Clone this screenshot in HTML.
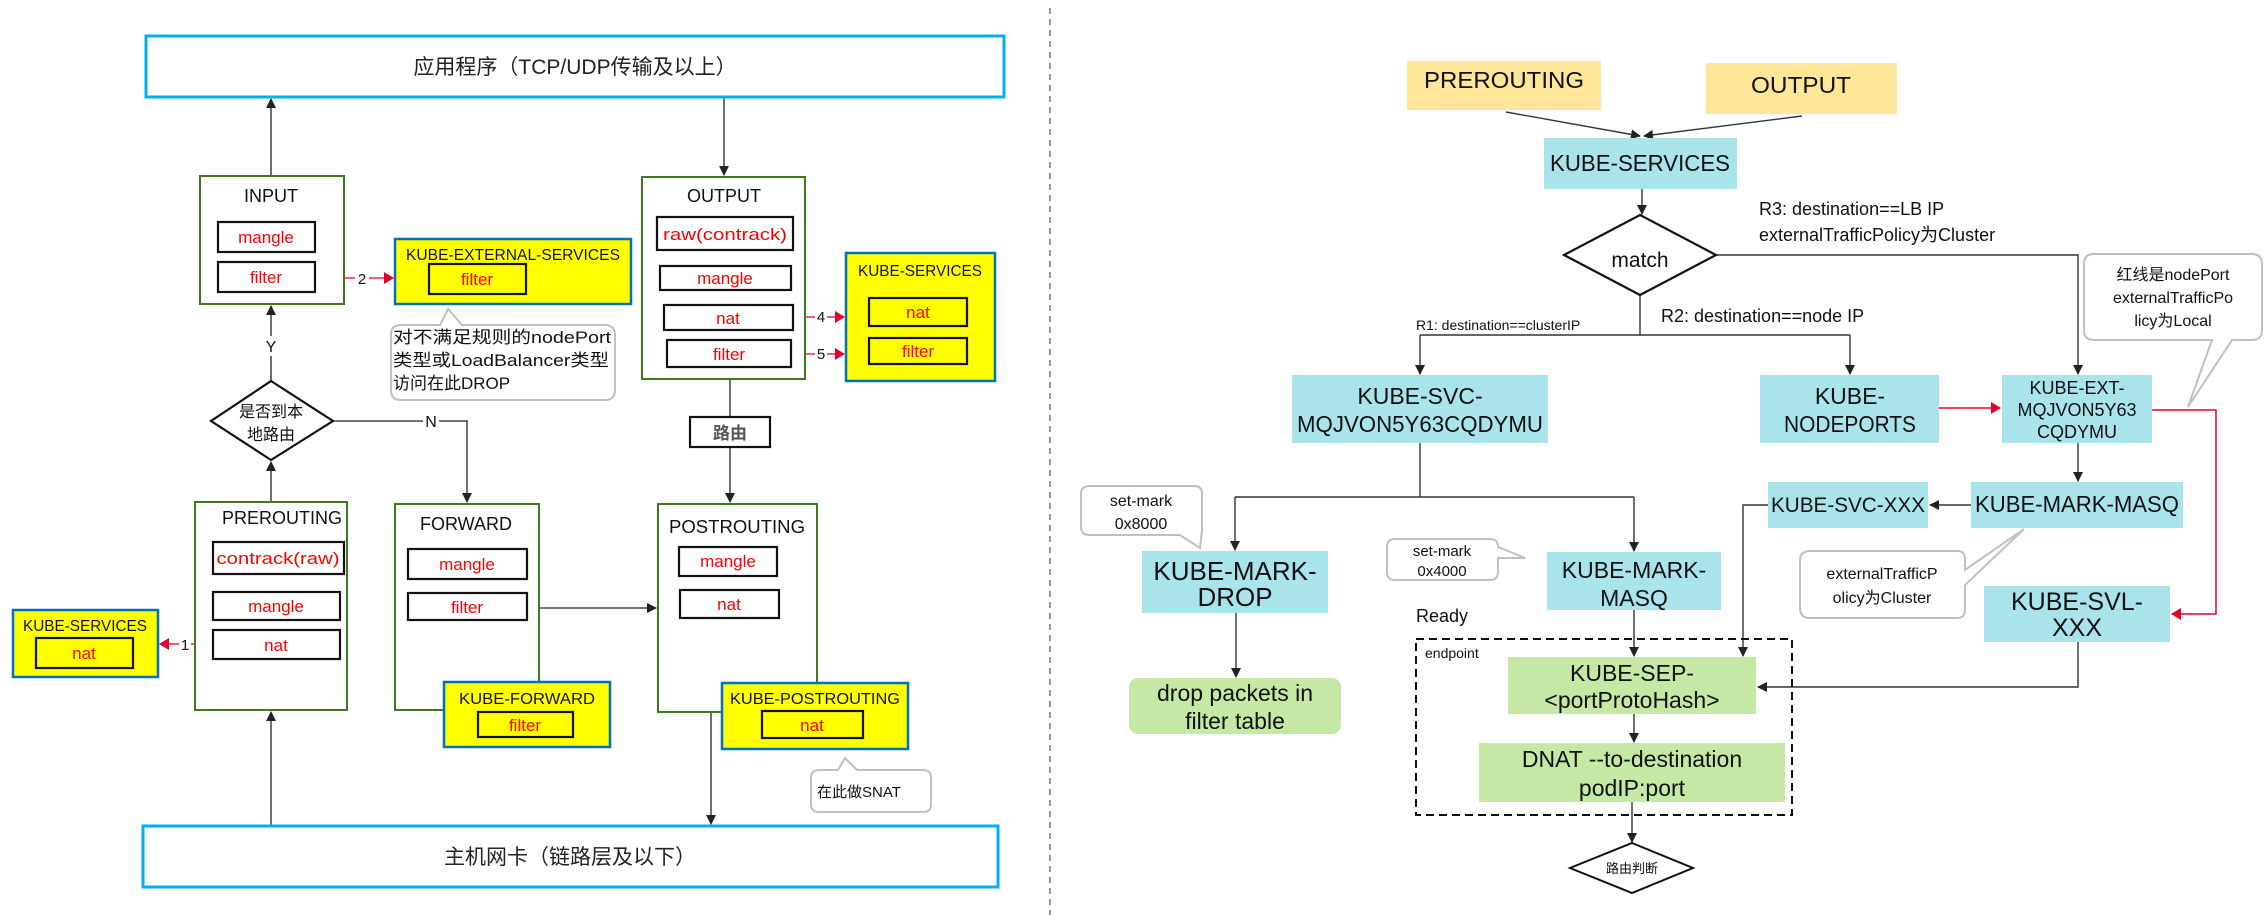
<!DOCTYPE html>
<html><head><meta charset="utf-8"><style>
html,body{margin:0;padding:0;background:#fff}
svg{display:block}
text{font-family:"Liberation Sans","Noto Sans CJK SC",sans-serif}
.c{text-anchor:middle}
.r{fill:#ff0000}
</style></head><body>
<svg width="2265" height="919" viewBox="0 0 2265 919" xmlns="http://www.w3.org/2000/svg">
<defs>
<marker id="a" markerWidth="10" markerHeight="10" refX="9" refY="5" orient="auto" markerUnits="userSpaceOnUse"><path d="M0,0 L10,5 L0,10 z" fill="#222"/></marker>
<marker id="ar" markerWidth="10" markerHeight="12" refX="9" refY="6" orient="auto" markerUnits="userSpaceOnUse"><path d="M0,0 L10,6 L0,12 z" fill="#e8002a"/></marker>
</defs>
<g fill="none" stroke="#222" stroke-width="1.3">
<!-- left connectors -->
<line x1="271" y1="176" x2="271" y2="99" marker-end="url(#a)"/>
<line x1="724" y1="97" x2="724" y2="175" marker-end="url(#a)"/>
<line x1="271" y1="381" x2="271" y2="306" marker-end="url(#a)"/>
<polyline points="333,421 467,421 467,502" marker-end="url(#a)"/>
<line x1="730" y1="379" x2="730" y2="417"/>
<line x1="730" y1="447" x2="730" y2="502" marker-end="url(#a)"/>
<line x1="271" y1="502" x2="271" y2="462" marker-end="url(#a)"/>
<line x1="271" y1="826" x2="271" y2="712" marker-end="url(#a)"/>
<line x1="539" y1="608" x2="656" y2="608" marker-end="url(#a)"/>
<line x1="711" y1="712" x2="711" y2="824" marker-end="url(#a)"/>
</g>
<g fill="none" stroke="#e8002a" stroke-width="1.3">
<line x1="315" y1="278" x2="393" y2="278" marker-end="url(#ar)"/>
<line x1="793" y1="317" x2="844" y2="317" marker-end="url(#ar)"/>
<line x1="791" y1="354" x2="844" y2="354" marker-end="url(#ar)"/>
<line x1="213" y1="644" x2="160" y2="644" marker-end="url(#ar)"/>
<line x1="480" y1="620" x2="480" y2="681" marker-end="url(#ar)"/>
<line x1="750" y1="618" x2="750" y2="682" marker-end="url(#ar)"/>
</g>
<!-- number labels -->
<g font-size="15" class="c" fill="#111">
<rect x="355" y="268" width="14" height="18" fill="#fff"/><text x="362" y="284">2</text>
<rect x="815" y="307" width="12" height="18" fill="#fff"/><text x="821" y="322">4</text>
<rect x="815" y="344" width="12" height="18" fill="#fff"/><text x="821" y="359">5</text>
<rect x="179" y="634" width="12" height="18" fill="#fff"/><text x="185" y="650">1</text>
<rect x="474" y="642" width="12" height="18" fill="#fff"/><text x="480" y="657">3</text>
<rect x="744" y="636" width="12" height="18" fill="#fff"/><text x="750" y="651">6</text>
<rect x="263" y="336" width="16" height="20" fill="#fff"/><text x="271" y="352" font-size="16">Y</text>
<rect x="423" y="412" width="16" height="20" fill="#fff"/><text x="431" y="427" font-size="16">N</text>
</g>
<!-- app boxes -->
<rect x="146" y="36" width="858" height="61" fill="#fff" stroke="#00b0f0" stroke-width="3"/>
<text x="575" y="74" class="c" font-size="21" fill="#222">应用程序（TCP/UDP传输及以上）</text>
<rect x="143" y="826" width="855" height="61" fill="#fff" stroke="#00b0f0" stroke-width="3"/>
<text x="570" y="864" class="c" font-size="21" fill="#222">主机网卡（链路层及以下）</text>
<!-- chains -->
<g fill="#fff" stroke="#3f7a1c" stroke-width="2">
<rect x="200" y="176" width="144" height="128"/>
<rect x="642" y="177" width="163" height="202"/>
<rect x="195" y="502" width="152" height="208"/>
<rect x="395" y="504" width="144" height="206"/>
<rect x="658" y="504" width="159" height="208"/>
</g>
<g font-size="18" class="c" fill="#111">
<text x="271" y="202">INPUT</text>
<text x="724" y="202">OUTPUT</text>
<text x="282" y="524" textLength="120" lengthAdjust="spacingAndGlyphs">PREROUTING</text>
<text x="466" y="530">FORWARD</text>
<text x="737" y="533" textLength="136" lengthAdjust="spacingAndGlyphs">POSTROUTING</text>
</g>
<!-- yellow boxes -->
<g fill="#ffff00" stroke="#0070c0" stroke-width="2.5">
<rect x="395" y="239" width="236" height="65"/>
<rect x="846" y="253" width="149" height="128"/>
<rect x="13" y="610" width="145" height="67"/>
<rect x="444" y="682" width="166" height="65"/>
<rect x="722" y="683" width="186" height="66"/>
</g>
<g font-size="16" class="c" fill="#111">
<text x="513" y="260" textLength="214" lengthAdjust="spacingAndGlyphs">KUBE-EXTERNAL-SERVICES</text>
<text x="920" y="276" textLength="124" lengthAdjust="spacingAndGlyphs">KUBE-SERVICES</text>
<text x="85" y="631" textLength="124" lengthAdjust="spacingAndGlyphs">KUBE-SERVICES</text>
<text x="527" y="704" textLength="136" lengthAdjust="spacingAndGlyphs">KUBE-FORWARD</text>
<text x="815" y="704" textLength="170" lengthAdjust="spacingAndGlyphs">KUBE-POSTROUTING</text>
</g>
<!-- table boxes -->
<g fill="none" stroke="#111" stroke-width="2.2">
<rect x="218" y="222" width="97" height="30"/>
<rect x="218" y="262" width="97" height="30"/>
<rect x="429" y="264" width="97" height="30"/>
<rect x="657" y="217" width="136" height="33"/>
<rect x="660" y="266" width="131" height="24"/>
<rect x="664" y="305" width="129" height="25"/>
<rect x="667" y="340" width="124" height="27"/>
<rect x="869" y="298" width="98" height="28"/>
<rect x="869" y="338" width="98" height="26"/>
<rect x="213" y="542" width="131" height="32"/>
<rect x="213" y="592" width="127" height="28"/>
<rect x="213" y="630" width="127" height="29"/>
<rect x="36" y="638" width="97" height="30"/>
<rect x="408" y="549" width="119" height="30"/>
<rect x="408" y="593" width="119" height="27"/>
<rect x="478" y="712" width="95" height="25"/>
<rect x="679" y="547" width="98" height="29"/>
<rect x="680" y="590" width="99" height="28"/>
<rect x="762" y="711" width="101" height="27"/>
<rect x="690" y="417" width="80" height="30" fill="#fff"/>
</g>
<g font-size="17" class="c r">
<text x="266" y="243">mangle</text>
<text x="266" y="283">filter</text>
<text x="477" y="285">filter</text>
<text x="725" y="240" textLength="124" lengthAdjust="spacingAndGlyphs">raw(contrack)</text>
<text x="725" y="284">mangle</text>
<text x="728" y="324">nat</text>
<text x="729" y="360">filter</text>
<text x="918" y="318">nat</text>
<text x="918" y="357">filter</text>
<text x="278" y="564" textLength="123" lengthAdjust="spacingAndGlyphs">contrack(raw)</text>
<text x="276" y="612">mangle</text>
<text x="276" y="651">nat</text>
<text x="84" y="659">nat</text>
<text x="467" y="570">mangle</text>
<text x="467" y="613">filter</text>
<text x="525" y="731">filter</text>
<text x="728" y="567">mangle</text>
<text x="729" y="610">nat</text>
<text x="812" y="731">nat</text>
</g>
<text x="730" y="439" class="c" font-size="17" font-weight="bold" fill="#555">路由</text>
<!-- diamond -->
<polygon points="271,381 333,421 271,460 211,421" fill="#fff" stroke="#111" stroke-width="2.2"/>
<text x="271" y="417" class="c" font-size="16" fill="#111">是否到本</text>
<text x="271" y="440" class="c" font-size="16" fill="#111">地路由</text>
<!-- callouts -->
<path d="M401,325 L440,325 L448,309 L462,325 L605,325 Q615,325 615,335 L615,390 Q615,400 605,400 L401,400 Q391,400 391,390 L391,335 Q391,325 401,325 z" fill="#fff" stroke="#c0c0c0" stroke-width="2"/>
<g font-size="17" fill="#111">
<text x="393" y="343" textLength="218" lengthAdjust="spacingAndGlyphs">对不满足规则的nodePort</text>
<text x="393" y="366" textLength="216" lengthAdjust="spacingAndGlyphs">类型或LoadBalancer类型</text>
<text x="393" y="389">访问在此DROP</text>
</g>
<path d="M819,770 L838,770 L845,758 L857,770 L923,770 Q931,770 931,778 L931,804 Q931,812 923,812 L819,812 Q811,812 811,804 L811,778 Q811,770 819,770 z" fill="#fff" stroke="#c0c0c0" stroke-width="2"/>
<text x="817" y="797" font-size="15" fill="#111">在此做SNAT</text>
<!-- divider -->
<line x1="1050" y1="8" x2="1050" y2="915" stroke="#777" stroke-width="1.5" stroke-dasharray="6,5"/>

<!-- RIGHT SIDE -->
<g fill="none" stroke="#333" stroke-width="1.4">
<line x1="1506" y1="112" x2="1640" y2="136" marker-end="url(#a)"/>
<line x1="1802" y1="116" x2="1644" y2="136" marker-end="url(#a)"/>
<line x1="1642" y1="189" x2="1642" y2="214" marker-end="url(#a)"/>
<polyline points="1716,255 2078,255 2078,374" marker-end="url(#a)"/>
<line x1="1640" y1="295" x2="1640" y2="335"/>
<polyline points="1420,335 1420,374" marker-end="url(#a)"/>
<polyline points="1850,335 1850,374" marker-end="url(#a)"/>
<line x1="1420" y1="335" x2="1850" y2="335"/>
<polyline points="1420,443 1420,497"/>
<line x1="1235" y1="497" x2="1634" y2="497"/>
<line x1="1235" y1="497" x2="1235" y2="550" marker-end="url(#a)"/>
<line x1="1634" y1="497" x2="1634" y2="551" marker-end="url(#a)"/>
<line x1="1236" y1="613" x2="1236" y2="677" marker-end="url(#a)"/>
<line x1="1634" y1="610" x2="1634" y2="656" marker-end="url(#a)"/>
<line x1="2078" y1="443" x2="2078" y2="481" marker-end="url(#a)"/>
<line x1="1971" y1="505" x2="1930" y2="505" marker-end="url(#a)"/>
<polyline points="1768,505 1743,505 1743,656" marker-end="url(#a)"/>
<polyline points="2078,642 2078,687 1758,687" marker-end="url(#a)"/>
<line x1="1634" y1="714" x2="1634" y2="742" marker-end="url(#a)"/>
<line x1="1632" y1="802" x2="1632" y2="842" marker-end="url(#a)"/>
</g>
<g fill="none" stroke="#e8002a" stroke-width="1.5">
<line x1="1939" y1="408" x2="2000" y2="408" marker-end="url(#ar)"/>
<polyline points="2152,410 2216,410 2216,614 2172,614" marker-end="url(#ar)"/>
</g>
<!-- dashed endpoint box -->
<rect x="1416" y="639" width="376" height="176" fill="none" stroke="#111" stroke-width="2" stroke-dasharray="8,5"/>
<text x="1425" y="658" font-size="14" fill="#111">endpoint</text>
<text x="1416" y="622" font-size="18" fill="#111">Ready</text>
<!-- boxes -->
<rect x="1407" y="61" width="194" height="49" fill="#ffe699"/>
<rect x="1706" y="63" width="191" height="51" fill="#ffe699"/>
<g fill="#aae4eb">
<rect x="1544" y="138" width="193" height="51"/>
<rect x="1292" y="375" width="256" height="68"/>
<rect x="1760" y="375" width="179" height="68"/>
<rect x="2002" y="375" width="150" height="68"/>
<rect x="1142" y="551" width="186" height="62"/>
<rect x="1547" y="552" width="174" height="58"/>
<rect x="1768" y="482" width="160" height="46"/>
<rect x="1971" y="482" width="212" height="46"/>
<rect x="1984" y="586" width="186" height="56"/>
</g>
<g fill="#c5e8a5">
<rect x="1129" y="678" width="212" height="56" rx="9"/>
<rect x="1508" y="657" width="248" height="57"/>
<rect x="1479" y="743" width="306" height="59"/>
</g>
<g font-size="23" class="c" fill="#111">
<text x="1504" y="88" textLength="160" lengthAdjust="spacingAndGlyphs">PREROUTING</text>
<text x="1801" y="93" textLength="100" lengthAdjust="spacingAndGlyphs">OUTPUT</text>
<text x="1640" y="171" textLength="180" lengthAdjust="spacingAndGlyphs">KUBE-SERVICES</text>
<text x="1420" y="404">KUBE-SVC-</text>
<text x="1420" y="432" textLength="246" lengthAdjust="spacingAndGlyphs">MQJVON5Y63CQDYMU</text>
<text x="1850" y="404">KUBE-</text>
<text x="1850" y="432" textLength="132" lengthAdjust="spacingAndGlyphs">NODEPORTS</text>
<text x="1235" y="580" font-size="26">KUBE-MARK-</text>
<text x="1235" y="606" font-size="26">DROP</text>
<text x="1634" y="578">KUBE-MARK-</text>
<text x="1634" y="606">MASQ</text>
<text x="1848" y="512" textLength="154" lengthAdjust="spacingAndGlyphs" font-size="21">KUBE-SVC-XXX</text>
<text x="2077" y="512" textLength="204" lengthAdjust="spacingAndGlyphs">KUBE-MARK-MASQ</text>
<text x="2077" y="610" font-size="25">KUBE-SVL-</text>
<text x="2077" y="636" font-size="25">XXX</text>
<text x="1235" y="701">drop packets in</text>
<text x="1235" y="729">filter table</text>
<text x="1632" y="681">KUBE-SEP-</text>
<text x="1632" y="708">&lt;portProtoHash&gt;</text>
<text x="1632" y="767">DNAT --to-destination</text>
<text x="1632" y="796">podIP:port</text>
</g>
<g font-size="18" class="c" fill="#111">
<text x="2077" y="394">KUBE-EXT-</text>
<text x="2077" y="416">MQJVON5Y63</text>
<text x="2077" y="438">CQDYMU</text>
</g>
<!-- match diamond -->
<polygon points="1640,215 1716,255 1640,295 1564,255" fill="#fff" stroke="#111" stroke-width="2.2"/>
<text x="1640" y="267" class="c" font-size="21" fill="#111">match</text>
<!-- routing diamond -->
<polygon points="1632,843 1693,868 1632,893 1570,868" fill="#fff" stroke="#111" stroke-width="2"/>
<text x="1632" y="873" class="c" font-size="13" fill="#111">路由判断</text>
<!-- labels -->
<g font-size="18" fill="#111">
<text x="1759" y="215">R3: destination==LB IP</text>
<text x="1759" y="241">externalTrafficPolicy为Cluster</text>
<text x="1661" y="322">R2: destination==node IP</text>
<text x="1416" y="330" font-size="14">R1: destination==clusterIP</text>
</g>
<!-- right callouts -->
<path d="M2094,254 L2252,254 Q2262,254 2262,264 L2262,330 Q2262,340 2252,340 L2232,340 L2188,407 L2212,340 L2094,340 Q2084,340 2084,330 L2084,264 Q2084,254 2094,254 z" fill="#fff" stroke="#c0c0c0" stroke-width="2"/>
<g font-size="16" class="c" fill="#111">
<text x="2173" y="280">红线是nodePort</text>
<text x="2173" y="303">externalTrafficPo</text>
<text x="2173" y="326">licy为Local</text>
</g>
<path d="M1090,486 L1194,486 Q1202,486 1202,494 L1202,530 L1200,548 L1180,535 L1090,535 Q1081,535 1081,527 L1081,494 Q1081,486 1090,486 z" fill="#fff" stroke="#c0c0c0" stroke-width="2"/>
<text x="1141" y="506" class="c" font-size="16" fill="#111">set-mark</text>
<text x="1141" y="529" class="c" font-size="16" fill="#111">0x8000</text>
<path d="M1395,539 L1490,539 Q1498,539 1498,547 L1525,558 L1498,558 L1498,572 Q1498,580 1490,580 L1395,580 Q1387,580 1387,572 L1387,547 Q1387,539 1395,539 z" fill="#fff" stroke="#c0c0c0" stroke-width="2"/>
<text x="1442" y="556" class="c" font-size="15" fill="#111">set-mark</text>
<text x="1442" y="576" class="c" font-size="15" fill="#111">0x4000</text>
<path d="M1810,551 L1957,551 Q1965,551 1965,559 L1965,570 L2024,529 L1965,585 L1965,610 Q1965,618 1957,618 L1810,618 Q1800,618 1800,608 L1800,561 Q1800,551 1810,551 z" fill="#fff" stroke="#c0c0c0" stroke-width="2"/>
<text x="1882" y="579" class="c" font-size="16" fill="#111">externalTrafficP</text>
<text x="1882" y="603" class="c" font-size="16" fill="#111">olicy为Cluster</text>
</svg>
</body></html>
